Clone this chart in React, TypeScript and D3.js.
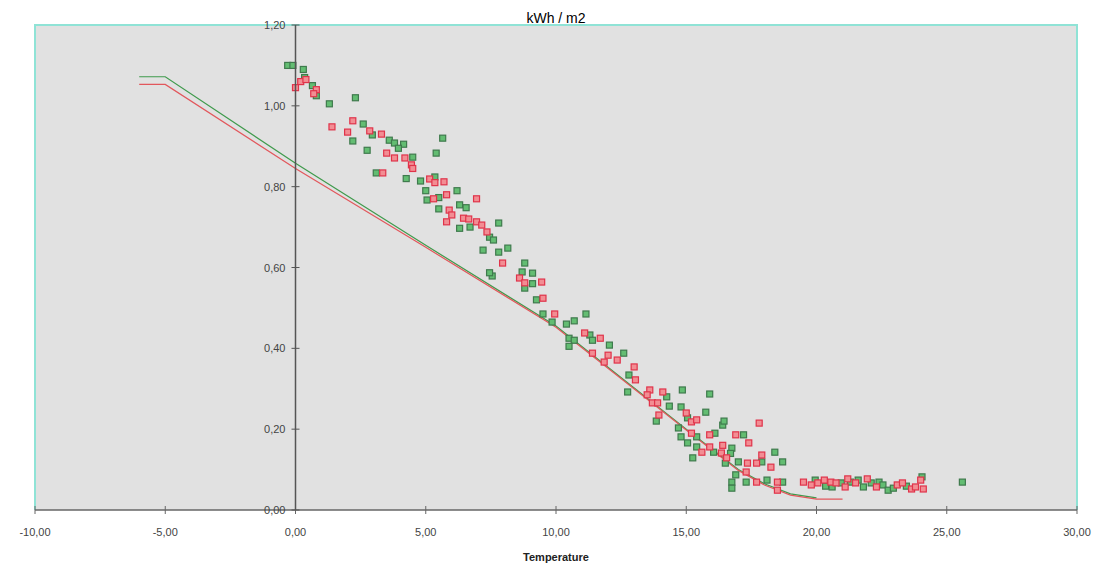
import * as d3 from "d3";

type Pt = [number, number];

// axis ticks
const xTicks = [-10, -5, 0, 5, 10, 15, 20, 25, 30];
const yTicks = [0, 0.2, 0.4, 0.6, 0.8, 1.0, 1.2];

// measured kWh/m2 vs temperature, two series
const greenPts: Pt[] = [
  [-0.3, 1.1], [-0.1, 1.1], [0.3, 1.09], [0.35, 1.07], [0.65, 1.05], [0.8, 1.025],
  [1.3, 1.005], [2.3, 1.02], [2.6, 0.955], [2.2, 0.913], [2.95, 0.928], [2.75, 0.89],
  [3.6, 0.915], [3.8, 0.908], [4.15, 0.905], [3.95, 0.895], [4.5, 0.873], [4.25, 0.82],
  [3.1, 0.834], [5.65, 0.92], [5.4, 0.883], [4.8, 0.814], [5.35, 0.824], [6.2, 0.79],
  [5.0, 0.79], [5.05, 0.767], [5.5, 0.773], [5.5, 0.745], [6.3, 0.755], [6.55, 0.748],
  [6.3, 0.697], [6.7, 0.7], [7.8, 0.71], [7.45, 0.675], [7.6, 0.668], [7.2, 0.643],
  [7.8, 0.638], [8.15, 0.648], [7.55, 0.579], [7.45, 0.587], [8.8, 0.611], [8.7, 0.589],
  [9.1, 0.586], [9.1, 0.56], [8.8, 0.549], [9.25, 0.52], [9.5, 0.485], [9.85, 0.465],
  [10.4, 0.46], [10.7, 0.468], [11.15, 0.485], [10.5, 0.425], [10.7, 0.42], [11.3, 0.433],
  [11.4, 0.42], [12.05, 0.408], [10.5, 0.405], [12.6, 0.388], [12.8, 0.334], [12.75, 0.292],
  [14.25, 0.28], [14.85, 0.297], [15.9, 0.287], [14.35, 0.257], [14.8, 0.255], [15.75, 0.242],
  [13.85, 0.22], [15.05, 0.228], [14.7, 0.203], [14.8, 0.181], [15.4, 0.181], [16.1, 0.19],
  [16.4, 0.21], [16.45, 0.22], [17.2, 0.186], [15.05, 0.166], [15.4, 0.156], [16.05, 0.143],
  [16.75, 0.153], [16.7, 0.14], [15.25, 0.129], [16.5, 0.116], [17.0, 0.119], [17.9, 0.119],
  [18.4, 0.143], [18.7, 0.119], [16.9, 0.087], [16.75, 0.069], [17.3, 0.069], [18.1, 0.074],
  [18.7, 0.069], [16.75, 0.054], [19.95, 0.074], [20.35, 0.059], [20.6, 0.057], [20.95, 0.067],
  [21.3, 0.069], [21.6, 0.074], [21.8, 0.057], [22.1, 0.067], [22.4, 0.069], [22.55, 0.062],
  [22.75, 0.049], [22.95, 0.054], [23.45, 0.059], [24.05, 0.082], [25.6, 0.069],
];

const redPts: Pt[] = [
  [0.2, 1.06], [0.0, 1.045], [0.4, 1.065], [0.8, 1.04], [0.7, 1.03], [1.4, 0.948],
  [2.2, 0.963], [2.0, 0.935], [2.85, 0.938], [3.3, 0.93], [3.5, 0.883], [3.8, 0.871],
  [4.2, 0.871], [4.45, 0.854], [4.5, 0.845], [3.35, 0.834], [5.15, 0.819], [5.35, 0.81],
  [5.7, 0.812], [5.8, 0.78], [5.3, 0.77], [5.9, 0.742], [6.0, 0.73], [6.45, 0.722],
  [6.65, 0.72], [6.95, 0.713], [7.15, 0.705], [5.8, 0.713], [6.95, 0.77], [7.35, 0.688],
  [7.95, 0.611], [8.6, 0.574], [8.8, 0.562], [9.45, 0.564], [9.5, 0.524], [9.95, 0.485],
  [11.1, 0.438], [11.7, 0.425], [11.4, 0.388], [12.0, 0.383], [11.85, 0.366], [12.35, 0.371],
  [13.0, 0.354], [13.05, 0.322], [13.6, 0.297], [13.5, 0.285], [14.1, 0.292], [13.7, 0.265],
  [13.9, 0.265], [13.95, 0.235], [15.0, 0.24], [15.2, 0.218], [15.4, 0.223], [15.2, 0.19],
  [15.9, 0.186], [16.9, 0.186], [17.8, 0.215], [17.4, 0.166], [15.9, 0.156], [16.4, 0.16],
  [16.35, 0.141], [15.6, 0.143], [16.55, 0.129], [17.35, 0.116], [17.7, 0.116], [17.9, 0.136],
  [18.25, 0.106], [17.3, 0.094], [17.7, 0.069], [18.5, 0.069], [18.5, 0.049], [19.5, 0.069],
  [19.8, 0.062], [20.05, 0.067], [20.3, 0.074], [20.55, 0.069], [20.75, 0.067], [21.1, 0.057],
  [21.2, 0.077], [21.5, 0.067], [21.95, 0.077], [22.3, 0.057], [23.1, 0.062], [23.3, 0.067],
  [23.65, 0.052], [23.8, 0.057], [24.0, 0.074], [24.1, 0.052],
];

// model lines
const greenLine: Pt[] = [
  [-6, 1.072], [-5, 1.072], [0, 0.858], [5, 0.655], [10, 0.455], [15, 0.2],
  [17, 0.1], [18, 0.065], [19, 0.04], [20, 0.03],
];
const redLine: Pt[] = [
  [-6, 1.053], [-5, 1.053], [0, 0.845], [5, 0.65], [10, 0.452], [15, 0.198],
  [17, 0.098], [18, 0.062], [19, 0.037], [20, 0.027], [21, 0.027],
];

const W = 1097;
const H = 565;
const font = "'Liberation Sans', Arial, sans-serif";

export default function App() {
  const x = d3.scaleLinear().domain([-10, 30]).range([35, 1077]);
  const y = d3.scaleLinear().domain([0, 1.2]).range([510, 25]);
  const fmt = (d: number) => d.toFixed(2).replace(".", ",");
  const line = d3
    .line<Pt>()
    .x((d) => x(d[0]))
    .y((d) => y(d[1]));

  const x0 = x(0);
  const s = 6;

  return (
    <div style={{ position: "absolute", left: 0, top: 0 }}>
      <svg width={W} height={H} style={{ display: "block", background: "#fff" }}>
        {/* plot area */}
        <rect x={35} y={25} width={1077 - 35} height={510 - 25} fill="#e1e1e1" />
        <path
          d={`M35,510V25H1077V510`}
          fill="none"
          stroke="#8fe3d6"
          strokeWidth={2}
        />

        {/* model lines */}
        <path d={line(greenLine) || ""} fill="none" stroke="#3f9a4c" strokeWidth={1.2} />
        <path d={line(redLine) || ""} fill="none" stroke="#e2575c" strokeWidth={1.2} />

        {/* scatter */}
        <g>
          {greenPts.map((d, i) => (
            <rect
              key={"g" + i}
              x={x(d[0]) - s / 2}
              y={y(d[1]) - s / 2}
              width={s}
              height={s}
              fill="#63bd72"
              stroke="#3f7a4d"
              strokeWidth={1.2}
            />
          ))}
          {redPts.map((d, i) => (
            <rect
              key={"r" + i}
              x={x(d[0]) - s / 2}
              y={y(d[1]) - s / 2}
              width={s}
              height={s}
              fill="#f28d93"
              stroke="#e0334a"
              strokeWidth={1.2}
            />
          ))}
        </g>

        {/* x axis */}
        <line x1={35} x2={1077} y1={510} y2={510} stroke="#666" strokeWidth={1.5} />
        {xTicks.map((t) => (
          <g key={"xt" + t}>
            <line x1={x(t)} x2={x(t)} y1={506} y2={514} stroke="#666" strokeWidth={1} />
            <text
              x={x(t)}
              y={536}
              textAnchor="middle"
              fontFamily={font}
              fontSize={11}
              fill="#444"
            >
              {fmt(t)}
            </text>
          </g>
        ))}

        {/* y axis */}
        <line x1={x0} x2={x0} y1={25} y2={510} stroke="#555" strokeWidth={1.5} />
        {yTicks.map((t) => (
          <g key={"yt" + t}>
            <line x1={x0 - 4} x2={x0 + 4} y1={y(t)} y2={y(t)} stroke="#555" strokeWidth={1} />
            <text
              x={x0 - 10}
              y={y(t) + 4}
              textAnchor="end"
              fontFamily={font}
              fontSize={11}
              fill="#444"
            >
              {fmt(t)}
            </text>
          </g>
        ))}

        {/* titles */}
        <text
          x={556}
          y={23}
          textAnchor="middle"
          fontFamily={font}
          fontSize={14}
          fill="#000"
        >
          kWh / m2
        </text>
        <text
          x={556}
          y={561}
          textAnchor="middle"
          fontFamily={font}
          fontSize={11}
          fontWeight="bold"
          fill="#222"
        >
          Temperature
        </text>
      </svg>
    </div>
  );
}
